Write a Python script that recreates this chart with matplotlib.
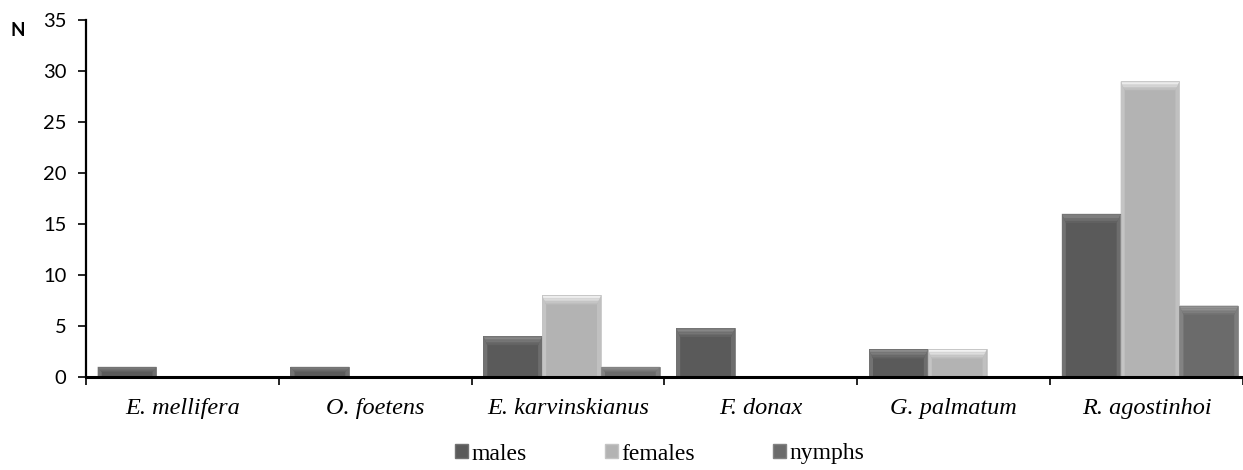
import matplotlib
matplotlib.use("Agg")
import matplotlib.pyplot as plt
from matplotlib.patches import Polygon, Rectangle, Patch
import numpy as np

categories = ["E. mellifera", "O. foetens", "E. karvinskianus", "F. donax", "G. palmatum", "R. agostinhoi"]
series_names = ["males", "females", "nymphs"]
males = [1, 1, 4, 4.8, 2.7, 16]
females = [0, 0, 8, 0, 2.7, 29]
nymphs = [0, 0, 1, 0, 0, 7]
y_ticks = [0, 5, 10, 15, 20, 25, 30, 35]

face_colors = ["#5a5a5a", "#b3b3b3", "#6b6b6b"]
top_colors = ["#909090", "#f6f6f6", "#a0a0a0"]
side_colors = ["#727272", "#c4c4c4", "#828282"]

W, H = 1243, 470
fig = plt.figure(figsize=(W / 100, H / 100), dpi=100)
ax_left, ax_right, ax_bottom, ax_top = 86, 1243, 377, 20
ax = fig.add_axes([ax_left / W, 1 - ax_bottom / H, (ax_right - ax_left) / W, (ax_bottom - ax_top) / H])

n = len(categories)
ax.set_xlim(-0.5, n - 0.5)
ax.set_ylim(0, 35)

px_x = (n) / (ax_right - ax_left)  # data units per pixel (x)
px_y = 35 / (ax_bottom - ax_top)   # data units per pixel (y)

bw = 0.305
offsets = [-bw, 0, bw]
shift = 0.018
x = np.arange(n)

def bevel_bar(xc, h, k):
    if h <= 0:
        return
    l = xc - bw / 2
    r = xc + bw / 2
    ax.add_patch(Rectangle((l, 0), bw, h, facecolor=face_colors[k], edgecolor="none", zorder=2))
    bx = 4 * px_x
    by = min(9 * px_y, h * 0.5)
    ax.add_patch(Polygon([(l, 0), (l + bx, 0), (l + bx, h - by), (l, h)], closed=True,
                         facecolor=side_colors[k], edgecolor="none", zorder=3))
    ax.add_patch(Polygon([(r, 0), (r - bx, 0), (r - bx, h - by), (r, h)], closed=True,
                         facecolor=side_colors[k], edgecolor="none", zorder=3, alpha=0.8))
    nb = 6
    c0 = np.array(matplotlib.colors.to_rgb(top_colors[k]))
    c1 = np.array(matplotlib.colors.to_rgb(face_colors[k]))
    for i in range(nb):
        t0 = i / nb
        t1 = (i + 1) / nb
        y0 = h - by * t0
        y1 = h - by * t1
        xi0 = bx * t0
        xi1 = bx * t1
        col = c0 * (1 - t0) + c1 * t0
        ax.add_patch(Polygon([(l + xi0, y0), (r - xi0, y0), (r - xi1, y1), (l + xi1, y1)], closed=True,
                             facecolor=col, edgecolor="none", zorder=4))
    ax.add_patch(Rectangle((l, 0), bw, h, facecolor="none", edgecolor=side_colors[k], linewidth=0.6, zorder=5))

for k, vals in enumerate([males, females, nymphs]):
    for i, v in enumerate(vals):
        bevel_bar(x[i] + offsets[k] + shift, v, k)

for s in ["top", "right"]:
    ax.spines[s].set_visible(False)
ax.spines["bottom"].set_linewidth(2.2)
ax.spines["left"].set_linewidth(1.6)
ax.spines["bottom"].set_zorder(6)

ax.set_yticks(y_ticks)
ax.set_yticklabels([str(t) for t in y_ticks], fontsize=14.5, family="Lato")
ax.tick_params(axis="y", length=6, width=1.2, pad=8)
ax.set_xticks(np.arange(n + 1) - 0.5, minor=True)
ax.set_xticks(x)
ax.set_xticklabels(categories, fontsize=17.5, family="Liberation Serif", style="italic")
ax.tick_params(axis="x", which="major", length=0, pad=15)
ax.tick_params(axis="x", which="minor", length=6, width=1.2)

fig.text(10 / W, 1 - 31 / H, "N", fontsize=13.5, fontweight="bold", family="Lato", va="center")

handles = [Patch(facecolor=face_colors[k], edgecolor=side_colors[k]) for k in range(3)]
leg = fig.legend(handles, series_names, loc="center", bbox_to_anchor=(660 / W, 1 - 454 / H), ncol=3,
                 frameon=False, prop={"family": "Liberation Serif", "size": 17},
                 handlelength=0.55, handleheight=0.55, handletextpad=0.15, columnspacing=3.3,
                 borderpad=0.2)

fig.savefig("out.png", dpi=100)
